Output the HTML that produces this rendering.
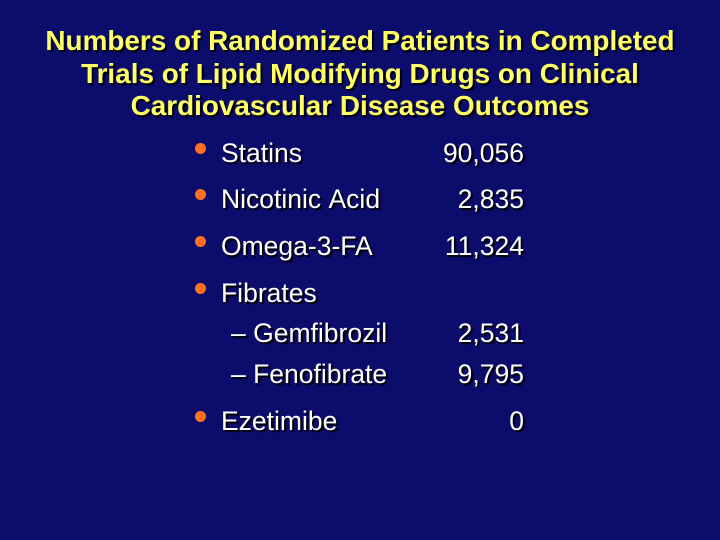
<!DOCTYPE html>
<html><head><style>
body{margin:0;width:720px;height:540px;background:#0c0c6c;overflow:hidden;font-family:"Liberation Sans",Arial,sans-serif;position:relative}
.t{position:absolute;left:0;width:720px;text-align:center;color:#ffff66;font-weight:bold;font-size:27.9px;line-height:32px;text-shadow:2px 2px 1px #000;white-space:nowrap}
.i{position:absolute;color:#fff;font-size:26.5px;text-shadow:2px 2px 1px #000;white-space:nowrap;line-height:28px}
.n{position:absolute;right:196px;color:#fff;font-size:26.5px;text-shadow:2px 2px 1px #000;line-height:28px}
.b{position:absolute;left:195px;width:11px;height:11px;border-radius:50%;background:#ff7020}
</style></head><body>
<div class="t" style="top:25px">Numbers of Randomized Patients in Completed</div>
<div class="t" style="top:58px">Trials of Lipid Modifying Drugs on Clinical</div>
<div class="t" style="top:90px">Cardiovascular Disease Outcomes</div>

<div class="b" style="top:143px"></div><div class="i" style="left:221px;top:139px">Statins</div><div class="n" style="top:139px">90,056</div>
<div class="b" style="top:189px"></div><div class="i" style="left:221px;top:185px">Nicotinic&nbsp;Acid</div><div class="n" style="top:185px">2,835</div>
<div class="b" style="top:236px"></div><div class="i" style="left:221px;top:232px">Omega-3-FA</div><div class="n" style="top:232px">11,324</div>
<div class="b" style="top:283px"></div><div class="i" style="left:221px;top:279px">Fibrates</div>
<div class="i" style="left:231px;top:319px">– Gemfibrozil</div><div class="n" style="top:319px">2,531</div>
<div class="i" style="left:231px;top:360px">– Fenofibrate</div><div class="n" style="top:360px">9,795</div>
<div class="b" style="top:411px"></div><div class="i" style="left:221px;top:407px">Ezetimibe</div><div class="n" style="top:407px">0</div>
</body></html>
